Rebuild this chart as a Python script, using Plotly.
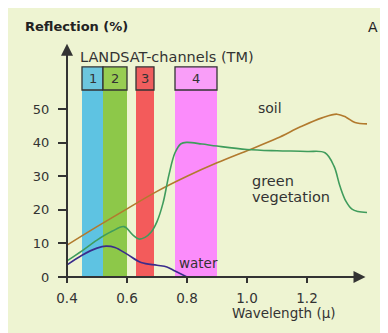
import plotly.graph_objects as go

# ---- data ----
soil_wl = [0.40, 0.50, 0.60, 0.70, 0.80, 0.90, 1.00, 1.10, 1.18, 1.25, 1.30, 1.33, 1.36, 1.40]
soil_r = [9.5, 15.0, 20.3, 25.5, 30.0, 34.0, 37.6, 41.3, 44.8, 47.4, 48.5, 47.6, 46.0, 45.6]

veg_wl = [0.40, 0.45, 0.50, 0.55, 0.59, 0.62, 0.64, 0.66, 0.68, 0.70, 0.72, 0.74, 0.76, 0.78, 0.80,
          0.85, 0.90, 1.00, 1.10, 1.20, 1.26, 1.29, 1.31, 1.33, 1.35, 1.37, 1.40]
veg_r = [4.8, 7.8, 11.0, 13.6, 15.0, 12.5, 11.3, 11.8, 13.3, 16.5, 22.0, 30.5, 37.0, 39.7, 40.1,
         39.6, 39.0, 38.0, 37.6, 37.4, 37.0, 33.0, 27.0, 22.5, 20.2, 19.5, 19.2]

water_wl = [0.40, 0.45, 0.50, 0.53, 0.56, 0.60, 0.647, 0.70, 0.733, 0.76, 0.80]
water_r = [3.6, 6.5, 8.6, 9.2, 8.8, 6.8, 4.3, 3.5, 3.0, 1.8, 0.0]

band_labels = ["1", "2", "3", "4"]
band_start = [0.45, 0.52, 0.63, 0.76]
band_end = [0.52, 0.60, 0.69, 0.90]
band_colors = ["#5ec3e2", "#8dc849", "#f35b5b", "#fb8cfb"]
box_colors = ["#6cc6de", "#98cd52", "#ef5e5e", "#f99ef8"]
band_top = 55.7
box_top = 62.6

x_ticks = [0.4, 0.6, 0.8, 1.0, 1.2]
x_tick_text = ["0.4", "0.6", "0.8", "1.0", "1.2"]
y_ticks = [0, 10, 20, 30, 40, 50]

BG = "#eef4d2"
TXT = "#333333"
FONT = "DejaVu Sans"

fig = go.Figure()

fig.add_trace(go.Scatter(x=soil_wl, y=soil_r, mode="lines", line=dict(color="#b27a2e", width=1.6, shape="spline"),
                         hoverinfo="skip", showlegend=False))
fig.add_trace(go.Scatter(x=veg_wl, y=veg_r, mode="lines", line=dict(color="#3f9c5c", width=1.6, shape="spline"),
                         hoverinfo="skip", showlegend=False))
fig.add_trace(go.Scatter(x=water_wl, y=water_r, mode="lines", line=dict(color="#3a2c8c", width=1.6, shape="spline"),
                         hoverinfo="skip", showlegend=False))

shapes = []
annotations = []
for lab, s, e, c, bc in zip(band_labels, band_start, band_end, band_colors, box_colors):
    shapes.append(dict(type="rect", xref="x", yref="y", x0=s, x1=e, y0=0, y1=band_top,
                       fillcolor=c, line=dict(width=0), layer="below"))
    shapes.append(dict(type="rect", xref="x", yref="y", x0=s, x1=e, y0=band_top, y1=box_top,
                       fillcolor=bc, line=dict(color="#333333", width=1.3), layer="below"))
    annotations.append(dict(x=(s + e) / 2, y=(band_top + box_top) / 2, xref="x", yref="y", text=lab,
                            showarrow=False, yanchor="middle", font=dict(size=13, color=TXT, family=FONT)))

# axis arrows
annotations.append(dict(x=1.395, y=0, ax=0.395, ay=0, xref="x", yref="y", axref="x", ayref="y", text="",
                        showarrow=True, arrowhead=2, arrowsize=1.2, arrowwidth=2, arrowcolor="#333333"))
annotations.append(dict(x=0.4, y=69.5, ax=0.4, ay=-1.0, xref="x", yref="y", axref="x", ayref="y", text="",
                        showarrow=True, arrowhead=2, arrowsize=1.2, arrowwidth=2, arrowcolor="#333333"))

annotations += [
    dict(x=-0.1438, y=1.064, xref="paper", yref="paper", text="<b>Reflection (%)</b>", showarrow=False,
         xanchor="left", yanchor="middle", font=dict(size=13, color="#222222", family=FONT)),
    dict(x=1.0, y=1.064, xref="paper", yref="paper", text="A", showarrow=False,
         xanchor="center", yanchor="middle", font=dict(size=14, color="#222222", family=FONT)),
    dict(x=0.437, y=65.5, xref="x", yref="y", text="LANDSAT-channels (TM)", showarrow=False,
         xanchor="left", yanchor="middle", font=dict(size=14.5, color=TXT, family=FONT)),
    dict(x=1.075, y=50.3, xref="x", yref="y", text="soil", showarrow=False,
         yanchor="middle", font=dict(size=14, color=TXT, family=FONT)),
    dict(x=1.011, y=28.7, xref="x", yref="y", text="green", showarrow=False,
         xanchor="left", yanchor="middle", font=dict(size=14.5, color=TXT, family=FONT)),
    dict(x=1.011, y=23.9, xref="x", yref="y", text="vegetation", showarrow=False,
         xanchor="left", yanchor="middle", font=dict(size=14.5, color=TXT, family=FONT)),
    dict(x=0.838, y=4.1, xref="x", yref="y", text="water", showarrow=False,
         yanchor="middle", font=dict(size=13.5, color=TXT, family=FONT)),
    dict(x=1.124, y=-0.153, xref="x", yref="paper", text="Wavelength (\u03bc)", showarrow=False,
         yanchor="middle", font=dict(size=13.5, color=TXT, family=FONT)),
]

fig.update_layout(
    width=380, height=325,
    margin=dict(l=59, r=15, t=34, b=56, pad=0),
    paper_bgcolor=BG, plot_bgcolor=BG,
    shapes=shapes, annotations=annotations,
    showlegend=False,
    font=dict(family=FONT, color=TXT, size=13),
)
fig.update_xaxes(range=[0.4, 1.42], tickvals=x_ticks, ticktext=x_tick_text, ticks="outside", ticklen=5,
                 tickwidth=1.5, tickcolor="#333333", showgrid=False, zeroline=False, showline=False,
                 ticklabelstandoff=4, tickfont=dict(size=13.5, color=TXT, family=FONT))
fig.update_yaxes(range=[0, 70], tickvals=y_ticks, ticks="outside", ticklen=8, tickwidth=1.5,
                 tickcolor="#333333", showgrid=False, zeroline=False, showline=False, ticklabelstandoff=6,
                 tickfont=dict(size=13, color=TXT, family=FONT))

fig.write_html("out.html")
